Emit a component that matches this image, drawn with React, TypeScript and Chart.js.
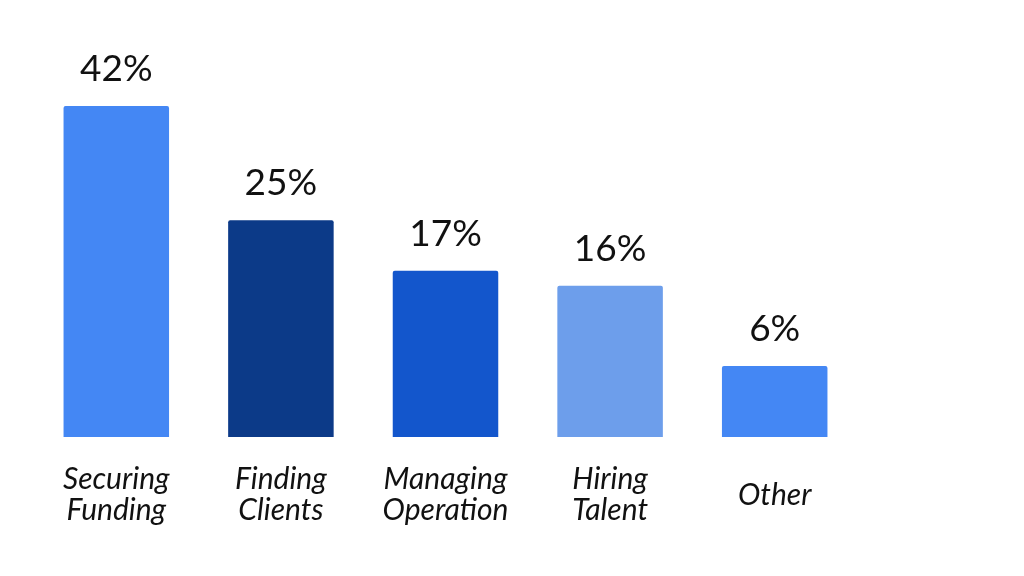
import React, { useEffect, useRef } from "react";
import { Chart, registerables } from "chart.js";

Chart.register(...registerables);

const categories: string[][] = [
  ["Securing", "Funding"],
  ["Finding", "Clients"],
  ["Managing", "Operation"],
  ["Hiring", "Talent"],
  ["Other"],
];
// bar heights as drawn in the picture (percent-like units)
const barValues: number[] = [42, 27.5, 21.1, 19.2, 9.0];
const valueLabels: string[] = ["42%", "25%", "17%", "16%", "6%"];
const barColors: string[] = ["#4487F4", "#0C3A88", "#1356CC", "#6D9EEB", "#4487F4"];

const labelsPlugin = {
  id: "customLabels",
  afterDatasetsDraw(chart: any) {
    const ctx = chart.ctx;
    const meta = chart.getDatasetMeta(0);
    const xScale = chart.scales.x;
    ctx.save();
    ctx.fillStyle = "#111111";
    ctx.textAlign = "center";
    // value labels
    ctx.font = "37px Lato";
    ctx.textBaseline = "alphabetic";
    meta.data.forEach((bar: any, i: number) => {
      ctx.fillText(valueLabels[i], bar.x, bar.y - 25);
    });
    // category labels
    ctx.font = "italic 30px Lato";
    ctx.textBaseline = "middle";
    const lineH = 31;
    const centerY = 495;
    categories.forEach((lines, i) => {
      const x = xScale.getPixelForValue(i);
      const startY = centerY - ((lines.length - 1) * lineH) / 2;
      lines.forEach((ln, j) => {
        ctx.fillText(ln, x, startY + j * lineH);
      });
    });
    ctx.restore();
  },
};

export default function App() {
  const ref = useRef<HTMLCanvasElement | null>(null);
  useEffect(() => {
    if (!ref.current) return;
    const chart = new Chart(ref.current, {
      type: "bar",
      data: {
        labels: categories.map((c) => c.join(" ")),
        datasets: [
          {
            data: barValues,
            backgroundColor: barColors,
            borderRadius: { topLeft: 2, topRight: 2, bottomLeft: 0, bottomRight: 0 },
            borderSkipped: "bottom",
            barPercentage: 0.641,
            categoryPercentage: 1,
          },
        ],
      },
      options: {
        responsive: false,
        animation: false,
        layout: { padding: { top: 43, bottom: 139, left: 34, right: 167 } },
        plugins: { legend: { display: false }, tooltip: { enabled: false } },
        scales: {
          x: { display: false },
          y: { display: false, min: 0, max: 50 },
        },
      },
      plugins: [labelsPlugin],
    });
    return () => chart.destroy();
  }, []);
  return (
    <div style={{ position: "fixed", left: 0, top: 0, width: 1024, height: 576, background: "#ffffff" }}>
      <canvas ref={ref} width={1024} height={576} />
    </div>
  );
}
